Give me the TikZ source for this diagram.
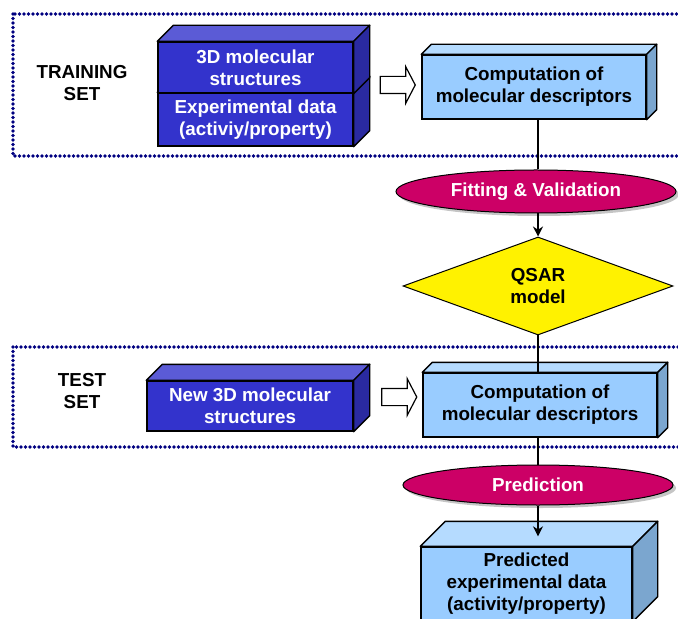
\documentclass[tikz,border=0pt]{standalone}
\usepackage{fontspec}
\setmainfont{Liberation Sans}
\usepackage{xcolor}
\usepackage{tikz}
\usetikzlibrary{shapes, shapes.geometric, shapes.arrows, positioning, calc, shadows, arrows.meta}
\definecolor{deepblue}{HTML}{3333CC}
\definecolor{deepbluetop}{HTML}{5B5BD6}
\definecolor{deepblueside}{HTML}{2A2AA0}
\definecolor{paleblue}{HTML}{99CCFF}
\definecolor{palebluetop}{HTML}{B5DBFF}
\definecolor{paleblueside}{HTML}{7BA6CF}
\definecolor{crimson}{HTML}{CC0066}
\definecolor{navydot}{HTML}{000080}
% top and side faces of a block: node, depth, top colour, side colour
\newcommand{\blockfaces}[4]{%
    \draw [face, fill = #3] (#1.north west) -- ++(#2,-#2) -- ($(#1.north east)+(#2,-#2)$) -- (#1.north east) -- cycle;
    \draw [face, fill = #4] (#1.north east) -- ++(#2,-#2) -- ($(#1.south east)+(#2,-#2)$) -- (#1.south east) -- cycle;
}

\begin{document}
\begin{tikzpicture}[
    x = 0.5pt, y = -0.5pt, > = {Stealth[length = 5pt, width = 5pt]},
    every node/.style = {font = \fontsize{9.4}{11}\selectfont\bfseries, align = center},
    darkblock/.style = {rectangle, draw, line width = 0.7pt, fill = deepblue, text = white, inner sep = 0pt},
    lightblock/.style = {rectangle, draw, line width = 0.7pt, fill = paleblue, text = black, inner sep = 0pt},
    face/.style = {draw, line width = 0.7pt, line join = round},
    procoval/.style = {ellipse, draw, line width = 0.5pt, fill = crimson, text = white, inner sep = 0pt,
        drop shadow = {shadow xshift = 1.5pt, shadow yshift = -1.5pt, fill = black!45}},
    decision/.style = {diamond, draw, line width = 0.5pt, fill = yellow, text = black, inner sep = 0pt},
    hollow/.style = {single arrow, draw, line width = 0.6pt, fill = white, inner xsep = 0pt, inner ysep = 4pt,
        text height = 0pt, text depth = 0pt, single arrow head extend = 4.75pt, single arrow tip angle = 125,
        minimum height = 17.5pt},
    setframe/.style = {draw = navydot, line width = 1.8pt, line cap = round, dash pattern = on 0pt off 2.25pt},
    setlabel/.style = {text = black},
    link/.style = {draw, line width = 0.6pt},
    ]
    \useasboundingbox (0,0) rectangle (678,619);
    \clip (0,0) rectangle (678,619);

    % training set
    \draw [setframe] (13,14) rectangle (700,156);
    \node [setlabel] (trainlabel) at (82,83) {TRAINING\\SET};
    \node [darkblock, minimum width = 97.5pt, minimum height = 26.5pt] (expdata) at (255.5,119.5) {Experimental data\\(activiy/property)};
    \blockfaces{expdata}{16}{deepbluetop}{deepblueside}
    \node [darkblock, minimum width = 97.5pt, minimum height = 25.5pt] (structs) at (255.5,67.5) {3D molecular\\structures};
    \blockfaces{structs}{16}{deepbluetop}{deepblueside}
    \node [hollow] (trainarrow) at (395.5,85) {};
    \node [lightblock, minimum width = 112pt, minimum height = 32pt] (comp1) at (534,87) {Computation of\\molecular descriptors};
    \blockfaces{comp1}{10}{palebluetop}{paleblueside}

    % model building
    \node [procoval, minimum width = 140pt, minimum height = 21.5pt] (fitting) at (536,191.5) {Fitting \& Validation};
    \node [decision, minimum width = 135pt, minimum height = 49pt] (qsar) at (538,286) {QSAR\\model};

    % test set
    \draw [setframe] (13,347) rectangle (700,447);
    \node [setlabel] (testlabel) at (82,391) {TEST\\SET};
    \node [darkblock, minimum width = 103pt, minimum height = 25pt] (newstructs) at (250,406) {New 3D molecular\\structures};
    \blockfaces{newstructs}{16}{deepbluetop}{deepblueside}
    \node [hollow] (testarrow) at (397,397) {};
    \node [lightblock, minimum width = 117pt, minimum height = 32pt] (comp2) at (540,405) {Computation of\\molecular descriptors};
    \blockfaces{comp2}{10}{palebluetop}{paleblueside}

    % prediction
    \node [procoval, minimum width = 135pt, minimum height = 20pt] (predict) at (538,485) {Prediction};
    \node [lightblock, minimum width = 105.5pt, minimum height = 37pt] (result) at (526.5,584) {Predicted\\experimental data\\(activity/property)};
    \blockfaces{result}{25}{palebluetop}{paleblueside}

    \draw [link] (comp1.south -| qsar) -- (fitting.north -| qsar);
    \draw [link, ->] (fitting.south -| qsar) -- (qsar.north);
    \draw [link] (qsar.south) -- (qsar.south |- comp2.north);
    \draw [link] (comp2.south -| predict) -- (predict.north);
    \draw [link, ->] (predict.south) -- ([yshift = 5pt]predict.south |- result.north);
\end{tikzpicture}
\end{document}
